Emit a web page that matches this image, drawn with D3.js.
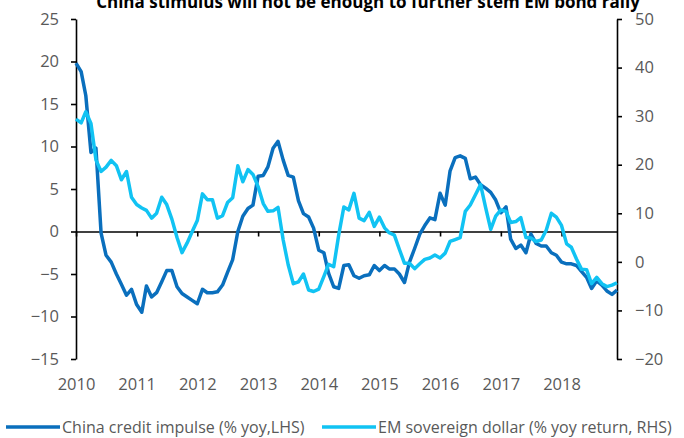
<!DOCTYPE html>
<meta charset="utf-8">
<script src="https://d3js.org/d3.v7.min.js"></script>
<style>
body { margin: 0; background: #fff; }
text { font-family: "Open Sans", sans-serif; }
.tick text { fill: #595959; font-size: 16.5px; }
</style>
<div id="chart"></div>
<script>

// monthly, Jan 2010 - Dec 2018
var startYear = 2010, nMonths = 108;

// China credit impulse (% yoy, LHS)
var creditImpulse = [
  19.8, 18.8, 16.0, 9.3, 9.8, -0.2, -2.8, -3.6, -5.0, -6.2, -7.5, -6.8,
  -8.6, -9.5, -6.4, -7.7, -7.2, -5.9, -4.6, -4.6, -6.5, -7.3, -7.7, -8.1,
  -8.5, -6.8, -7.2, -7.2, -7.1, -6.3, -4.8, -3.3, 0.0, 1.8, 2.7, 3.1,
  6.5, 6.6, 7.6, 9.8, 10.6, 8.4, 6.6, 6.4, 3.6, 2.1, 1.7, 0.4,
  -2.2, -2.5, -4.9, -6.5, -6.7, -4.0, -3.9, -5.2, -5.5, -5.2, -5.1, -4.0,
  -4.6, -4.0, -4.4, -4.4, -5.0, -6.0, -3.6, -2.0, -0.3, 0.7, 1.6, 1.4,
  4.5, 3.1, 7.1, 8.7, 8.9, 8.6, 6.2, 6.4, 5.5, 5.1, 4.6, 3.7,
  2.2, 2.9, -0.9, -2.0, -1.6, -2.5, -0.3, -1.4, -1.7, -1.7, -2.5, -2.8,
  -3.6, -3.8, -3.8, -4.0, -4.7, -5.4, -6.7, -5.8, -6.3, -7.0, -7.4, -6.9
];

// EM sovereign dollar (% yoy return, RHS)
var emSovereign = [
  29.4, 28.6, 30.9, 28.5, 21.0, 18.6, 19.5, 20.9, 19.8, 16.9, 18.6, 13.3,
  11.8, 11.1, 10.6, 9.0, 10.0, 13.3, 11.8, 8.8, 5.0, 1.9, 3.9, 6.2,
  8.5, 14.0, 12.8, 12.8, 9.0, 9.5, 12.2, 13.2, 19.8, 16.5, 19.0, 18.0,
  15.5, 12.0, 10.4, 10.5, 11.2, 4.5, -0.6, -4.5, -4.1, -2.5, -5.8, -6.1,
  -5.6, -3.0, -0.5, -1.0, 5.5, 11.3, 10.7, 14.1, 9.0, 8.5, 10.2, 7.3,
  9.2, 7.0, 6.0, 5.5, 2.6, -0.3, -0.3, -1.4, -0.4, 0.5, 0.8, 1.4,
  0.8, 1.8, 4.2, 4.6, 5.0, 10.4, 11.7, 13.8, 15.9, 11.2, 6.7, 9.4,
  10.7, 10.4, 8.1, 8.3, 9.1, 5.0, 4.9, 4.2, 4.5, 6.5, 10.0, 9.2,
  7.5, 3.7, 3.0, 0.6, -1.5, -1.6, -4.5, -3.2, -4.5, -5.1, -4.8, -4.3
];

var leftTicks = [-15, -10, -5, 0, 5, 10, 15, 20, 25];
var rightTicks = [-20, -10, 0, 10, 20, 30, 40, 50];

var title = "China stimulus will not be enough to further stem EM bond rally";
var seriesNames = ["China credit impulse (% yoy,LHS)", "EM sovereign dollar (% yoy return, RHS)"];
var colors = ["#0a6fbd", "#11c3f3"];

var width = 684, height = 438;
var plot = {left: 76, right: 617, top: 19, bottom: 359};

var dates = d3.range(nMonths).map(function(i) { return new Date(startYear, i, 1); });

var svg = d3.select("#chart")
  .append("svg")
    .attr("width", width)
    .attr("height", height);

var x = d3.scaleTime()
  .domain([dates[0], dates[nMonths - 1]])
  .range([plot.left, plot.right]);

var yL = d3.scaleLinear().domain([-15, 25]).range([plot.bottom, plot.top]);
var yR = d3.scaleLinear().domain([-20, 50]).range([plot.bottom, plot.top]);

// title (cut off at the top in the original)
svg.append("text")
  .attr("x", 368)
  .attr("y", 7.5)
  .attr("text-anchor", "middle")
  .style("font-weight", "bold")
  .style("font-size", "17px")
  .style("fill", "#000")
  .text(title);

// left axis
var gL = svg.append("g")
  .attr("transform", "translate(" + plot.left + ",0)")
  .call(d3.axisLeft(yL).tickValues(leftTicks).tickSize(5).tickSizeOuter(0).tickPadding(12));

// right axis
var gR = svg.append("g")
  .attr("transform", "translate(" + plot.right + ",0)")
  .call(d3.axisRight(yR).tickValues(rightTicks).tickSize(5).tickSizeOuter(0).tickPadding(13));

// x axis on the zero line, labels pushed down
var gX = svg.append("g")
  .attr("transform", "translate(0," + yL(0) + ")")
  .call(d3.axisBottom(x).ticks(d3.timeYear.every(1)).tickFormat(d3.timeFormat("%Y")).tickSize(5).tickSizeOuter(0));

gX.selectAll(".tick text")
  .attr("y", 384 - yL(0))
  .attr("dy", "0.35em");

[gL, gR, gX].forEach(function(g) {
  g.select(".domain").attr("stroke", "#000").attr("stroke-width", 1.6);
  g.selectAll(".tick line").attr("stroke", "#000").attr("stroke-width", 1.6);
});

// lines
var lineL = d3.line()
  .x(function(d, i) { return x(dates[i]); })
  .y(function(d) { return yL(d); });

var lineR = d3.line()
  .x(function(d, i) { return x(dates[i]); })
  .y(function(d) { return yR(d); });

svg.append("path")
  .datum(creditImpulse)
  .attr("fill", "none")
  .attr("stroke", colors[0])
  .attr("stroke-width", 3.5)
  .attr("stroke-linejoin", "round")
  .attr("d", lineL);

svg.append("path")
  .datum(emSovereign)
  .attr("fill", "none")
  .attr("stroke", colors[1])
  .attr("stroke-width", 3.5)
  .attr("stroke-linejoin", "round")
  .attr("d", lineR);

// legend
var legendItems = [
  {name: seriesNames[0], color: colors[0], x0: 6, x1: 60, tx: 62},
  {name: seriesNames[1], color: colors[1], x0: 322, x1: 376, tx: 378}
];

var legend = svg.append("g").attr("transform", "translate(0,427)");

legend.selectAll("line")
  .data(legendItems)
  .enter()
  .append("line")
    .attr("x1", function(d) { return d.x0; })
    .attr("x2", function(d) { return d.x1; })
    .attr("stroke", function(d) { return d.color; })
    .attr("stroke-width", 3.5);

legend.selectAll("text")
  .data(legendItems)
  .enter()
  .append("text")
    .attr("x", function(d) { return d.tx; })
    .attr("dy", "0.35em")
    .style("font-size", "16px")
    .style("fill", "#595959")
    .text(function(d) { return d.name; });

</script>
